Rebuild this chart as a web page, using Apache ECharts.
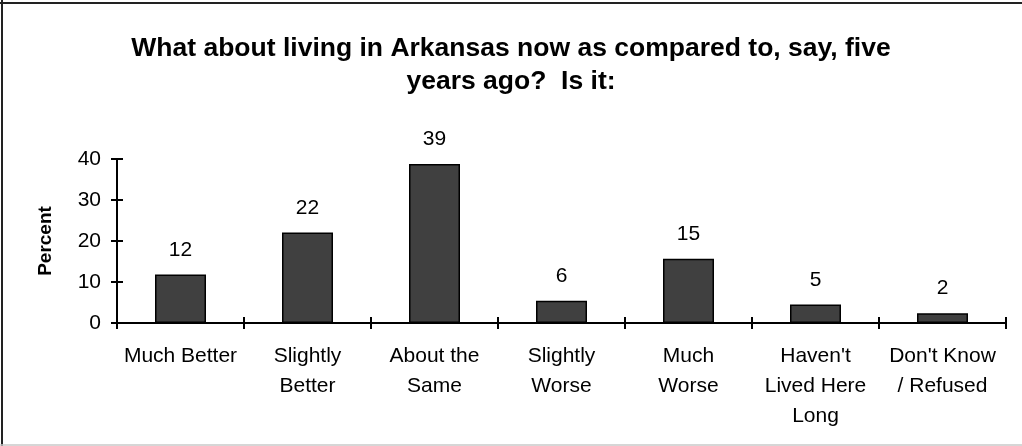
<!DOCTYPE html>
<html>
<head>
<meta charset="utf-8">
<script src="https://cdn.jsdelivr.net/npm/echarts@6/dist/echarts.min.js"></script>
<style>
html,body{margin:0;padding:0;background:#fff;}
#chart{width:1022px;height:446px;}
</style>
</head>
<body>
<div id="chart"></div>
<script>
var titleText = "What about living in Arkansas now as compared to, say, five\nyears ago?  Is it:";
var categories = ["Much Better", "Slightly\nBetter", "About the\nSame", "Slightly\nWorse", "Much\nWorse", "Haven't\nLived Here\nLong", "Don't Know\n/ Refused"];
var values = [11.8, 22.1, 38.8, 5.4, 15.7, 4.5, 2.4];
var valueLabels = ["12", "22", "39", "6", "15", "5", "2"];
var yTicks = [0, 10, 20, 30, 40];

var FONT = "'Liberation Sans', Arial, sans-serif";
var chart = echarts.init(document.getElementById('chart'), null, {renderer: 'canvas'});
var axisCommon = {
  axisLine: {show: true, lineStyle: {color: '#000', width: 2}},
  splitLine: {show: false}
};
chart.setOption({
  animation: false,
  backgroundColor: '#fff',
  title: {
    text: titleText,
    left: 'center',
    top: 27,
    textStyle: {fontFamily: FONT, fontSize: 26.5, fontWeight: 'bold', color: '#000', lineHeight: 33}
  },
  grid: {left: 117, right: 16, top: 159, bottom: 123, containLabel: false},
  xAxis: [
    Object.assign({}, axisCommon, {
      type: 'category', data: categories,
      axisTick: {show: true, inside: false, length: 6, alignWithLabel: false, lineStyle: {color: '#000', width: 2}},
      axisLabel: {interval: 0, margin: 18, fontFamily: FONT, fontSize: 21, color: '#000', lineHeight: 30, align: 'center', verticalAlign: 'top'}
    }),
    Object.assign({}, axisCommon, {
      type: 'category', data: categories, position: 'bottom',
      axisTick: {show: true, inside: true, length: 6, lineStyle: {color: '#000', width: 2}},
      axisLabel: {show: false}
    })
  ],
  yAxis: [
    Object.assign({}, axisCommon, {
      type: 'value', min: yTicks[0], max: yTicks[yTicks.length - 1], interval: 10,
      name: 'Percent', nameLocation: 'middle', nameGap: 62,
      nameTextStyle: {fontFamily: FONT, fontSize: 19, fontWeight: 'bold', color: '#000'},
      axisTick: {show: true, inside: false, length: 6, lineStyle: {color: '#000', width: 2}},
      axisLabel: {margin: 16, fontFamily: FONT, fontSize: 21, color: '#000'}
    }),
    Object.assign({}, axisCommon, {
      type: 'value', min: yTicks[0], max: yTicks[yTicks.length - 1], interval: 10, position: 'left',
      axisTick: {show: true, inside: true, length: 6, lineStyle: {color: '#000', width: 2}},
      axisLabel: {show: false}
    })
  ],
  series: [{
    type: 'bar',
    data: values,
    barWidth: 51,
    itemStyle: {color: '#404040', borderColor: '#000', borderWidth: 1.5},
    label: {
      show: true, position: 'top', distance: 14,
      fontFamily: FONT, fontSize: 21, color: '#000',
      formatter: function (p) { return valueLabels[p.dataIndex]; }
    }
  }],
  graphic: [
    {type: 'line', shape: {x1: 0, y1: 3, x2: 1022, y2: 3}, style: {stroke: '#222', lineWidth: 2}, silent: true},
    {type: 'line', shape: {x1: 2, y1: 0, x2: 2, y2: 446}, style: {stroke: '#222', lineWidth: 2}, silent: true},
    {type: 'line', shape: {x1: 0, y1: 445, x2: 1022, y2: 445}, style: {stroke: '#c8c8c8', lineWidth: 1.5}, silent: true}
  ]
});
</script>
</body>
</html>
